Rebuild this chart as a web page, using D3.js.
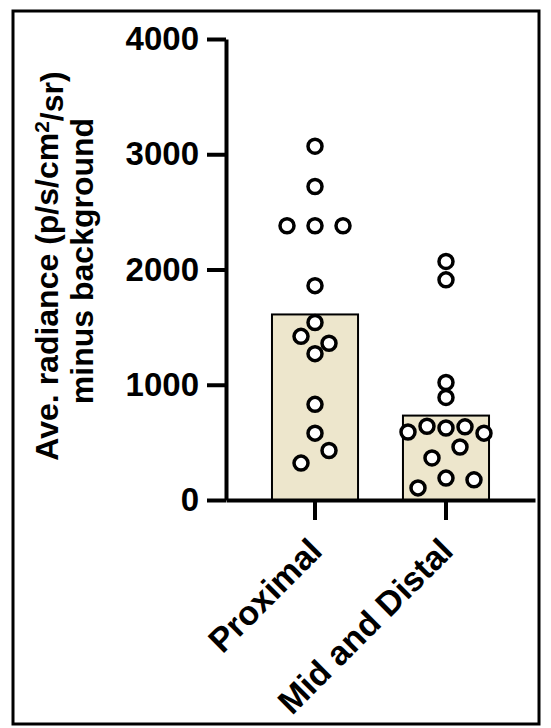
<!DOCTYPE html>
<html lang="en">
<head>
<meta charset="utf-8">
<script src="https://d3js.org/d3.v7.min.js"></script>
<style>
	body { margin: 0; background: #ffffff; }
	svg { display: block; background: #ffffff; }
	.axis path, .axis line { stroke: #000; stroke-width: 4px; }
	.axis text {
		font-family: "Liberation Sans", Arial, sans-serif;
		font-weight: bold;
		font-size: 33px;
		fill: #000;
	}
	.xaxis text { font-size: 34px; }
	.bar { fill: #ede6cc; stroke: #000; stroke-width: 2px; }
	.dot { fill: #fff; stroke: #000; stroke-width: 3.5px; }
	.ytitle {
		font-family: "Liberation Sans", Arial, sans-serif;
		font-weight: bold;
		font-size: 32px;
		fill: #000;
	}
</style>
</head>
<body>
<div id="chart"></div>
<script>

var width = 551, height = 728;

// groups on the x axis
var groups = ["Proximal", "Mid and Distal"];

// individual values (order = left to right within a row)
var proximal = [3070, 2720, 2380, 2380, 2380, 1860, 1540, 1420, 1360, 1270, 830, 580, 320, 430];
var midDistal = [2070, 1910, 1020, 890, 590, 640, 625, 635, 580, 365, 460, 105, 190, 175];

var yTicks = [0, 1000, 2000, 3000, 4000];

var values = { "Proximal": proximal, "Mid and Distal": midDistal };

var svg = d3.select("#chart").append("svg")
	.attr("width", width)
	.attr("height", height);

// outer frame
svg.append("rect")
	.attr("x", 13).attr("y", 11)
	.attr("width", 526).attr("height", 713)
	.style("fill", "none")
	.style("stroke", "#000")
	.style("stroke-width", 3);

var y = d3.scaleLinear().domain([0, 4000]).range([500, 39]);

var x = d3.scaleBand()
	.domain(groups)
	.range([226, 535])
	.paddingInner(0.343)
	.paddingOuter(0.351);

// bars = mean of each group
svg.selectAll(".bar")
	.data(groups)
	.enter()
	.append("rect")
	.attr("class", "bar")
	.attr("x", function(d) { return x(d); })
	.attr("width", x.bandwidth())
	.attr("y", function(d) { return y(d3.mean(values[d])); })
	.attr("height", function(d) { return y(0) - y(d3.mean(values[d])); });

// simple row-binned scatter, like the column scatter in the original
function layout(vals) {
	var sorted = vals.map(function(v, i) { return { v: v, i: i }; })
		.sort(function(a, b) { return b.v - a.v || a.i - b.i; });
	var rows = [], cur = null;
	sorted.forEach(function(p) {
		if (!cur || cur.start - p.v > 115) {
			cur = { start: p.v, pts: [] };
			rows.push(cur);
		}
		cur.pts.push(p);
	});
	var out = [];
	rows.forEach(function(r) {
		r.pts.sort(function(a, b) { return a.i - b.i; });
		var n = r.pts.length;
		var gap = n > 1 ? Math.min(28, 76 / (n - 1)) : 0;
		r.pts.forEach(function(p, k) {
			out.push({ v: p.v, off: (k - (n - 1) / 2) * gap });
		});
	});
	return out;
}

groups.forEach(function(g) {
	svg.selectAll(".dot-" + groups.indexOf(g))
		.data(layout(values[g]))
		.enter()
		.append("circle")
		.attr("class", "dot")
		.attr("cx", function(d) { return x(g) + x.bandwidth() / 2 + d.off; })
		.attr("cy", function(d) { return y(d.v); })
		.attr("r", 7);
});

// axes
svg.append("g")
	.attr("class", "axis")
	.attr("transform", "translate(226,0)")
	.call(d3.axisLeft(y)
		.tickValues(yTicks)
		.tickSize(19)
		.tickSizeOuter(0)
		.tickPadding(8)
		.tickFormat(d3.format("d")));

var xAxis = svg.append("g")
	.attr("class", "axis xaxis")
	.attr("transform", "translate(0,500)")
	.call(d3.axisBottom(x).tickSize(20).tickSizeOuter(0));

xAxis.selectAll("text")
	.attr("x", 0)
	.attr("y", 0)
	.attr("dy", 0)
	.style("text-anchor", "end")
	.attr("transform", "translate(9,53) rotate(-45)");

// y axis title, two lines
var title = svg.append("text")
	.attr("class", "ytitle")
	.attr("text-anchor", "middle")
	.attr("transform", "translate(58,266) rotate(-90)");

title.append("tspan").text("Ave. radiance (p/s/cm");
title.append("tspan").attr("dy", "-0.45em").style("font-size", "21px").text("2");
title.append("tspan").attr("dy", "0.45em").text("/sr)");

svg.append("text")
	.attr("class", "ytitle")
	.attr("text-anchor", "middle")
	.attr("transform", "translate(93,261) rotate(-90)")
	.text("minus background");

</script>
</body>
</html>
